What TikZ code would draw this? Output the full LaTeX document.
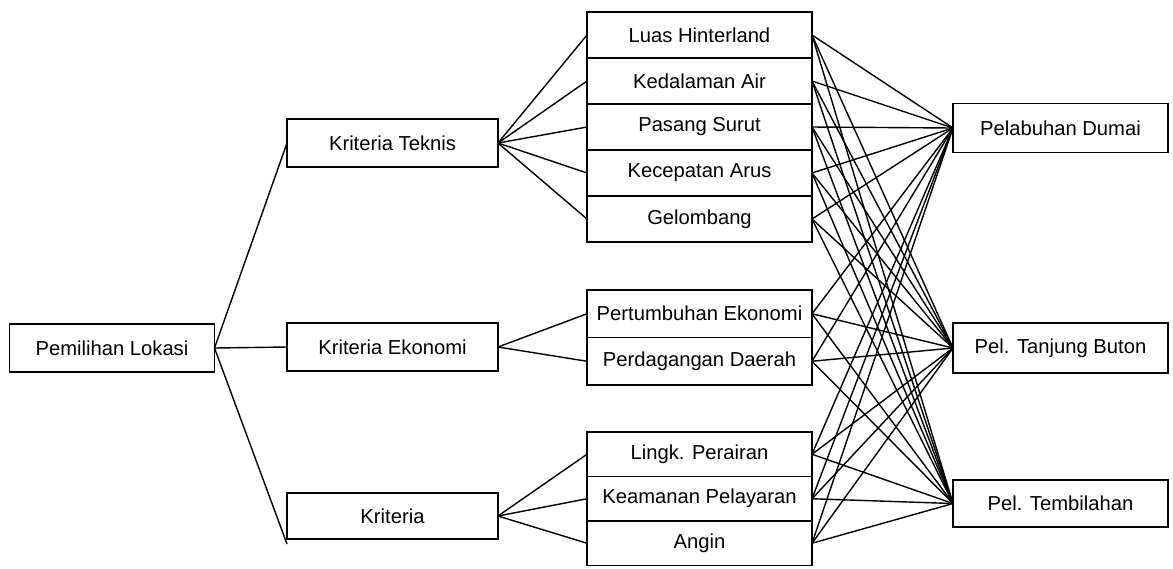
\documentclass[tikz,border=0pt]{standalone}
\usepackage{fontspec}
\setmainfont{Liberation Sans}
\usetikzlibrary{positioning}

\begin{document}
\begin{tikzpicture}[
  every node/.style={font=\fontsize{11.5}{13}\selectfont},
  box/.style={draw, line width=1.1pt, inner sep=0pt, outer sep=0pt, align=center},
  goal/.style={box, minimum width=4.1cm, minimum height=0.96cm},
  crit/.style={box, minimum width=4.22cm, minimum height=0.96cm},
  sub/.style={box, minimum width=4.5cm, minimum height=0.92cm},
  alt/.style={box, minimum width=4.3cm, minimum height=0.98cm},
  link/.style={line width=0.8pt}
]
  \useasboundingbox (0,0) rectangle (23.46,-11.36);

  % tujuan
  \node[goal] (goal) at (2.24,-6.96) {Pemilihan Lokasi};

  % kriteria
  \node[crit] (k1) at (7.85,-2.86) {Kriteria Teknis};
  \node[crit] (k2) at (7.85,-6.94) {Kriteria Ekonomi};
  \node[crit, minimum height=0.92cm] (k3) at (7.85,-10.32) {Kriteria};

  % sub kriteria teknis
  \node[sub] (s1) at (13.99,-0.70) {Luas Hinterland};
  \node[sub, below=0pt of s1] (s2) {Kedalaman Air};
  \node[sub, below=0pt of s2] (s3) {Pasang Surut};
  \node[sub, below=0pt of s3] (s4) {Kecepatan Arus};
  \node[sub, below=0pt of s4] (s5) {Gelombang};

  % sub kriteria ekonomi
  \node[sub, minimum height=0.95cm] (s6) at (13.99,-6.275) {Pertumbuhan Ekonomi};
  \node[sub, minimum height=0.95cm, below=0pt of s6] (s7) {Perdagangan Daerah};

  % sub kriteria lain
  \node[sub, minimum height=0.89cm] (s8) at (13.99,-9.085) {Lingk. Perairan};
  \node[sub, minimum height=0.89cm, below=0pt of s8] (s9) {Keamanan Pelayaran};
  \node[sub, minimum height=0.89cm, below=0pt of s9] (s10) {Angin};

  % alternatif
  \node[alt] (a1) at (21.21,-2.56) {Pelabuhan Dumai};
  \node[alt, minimum height=1.0cm] (a2) at (21.21,-6.96) {Pel. Tanjung Buton};
  \node[alt, minimum height=0.94cm] (a3) at (21.21,-10.07) {Pel. Tembilahan};

  % garis
  \draw[link] (goal.east) -- (k1.west);
  \draw[link] (goal.east) -- (k2.west);
  \draw[link] (goal.east) -- ([yshift=-0.1cm]k3.south west);
  \foreach \s in {s1,s2,s3,s4,s5}
    \draw[link] (k1.east) -- (\s.west);
  \foreach \s in {s6,s7}
    \draw[link] (k2.east) -- (\s.west);
  \foreach \s in {s8,s9,s10}
    \draw[link] (k3.east) -- (\s.west);
  \foreach \s in {s1,s2,s3,s4,s5,s6,s7,s8,s9,s10}
    \foreach \a in {a1,a2,a3}
      \draw[link] (\s.east) -- (\a.west);
\end{tikzpicture}
\end{document}
